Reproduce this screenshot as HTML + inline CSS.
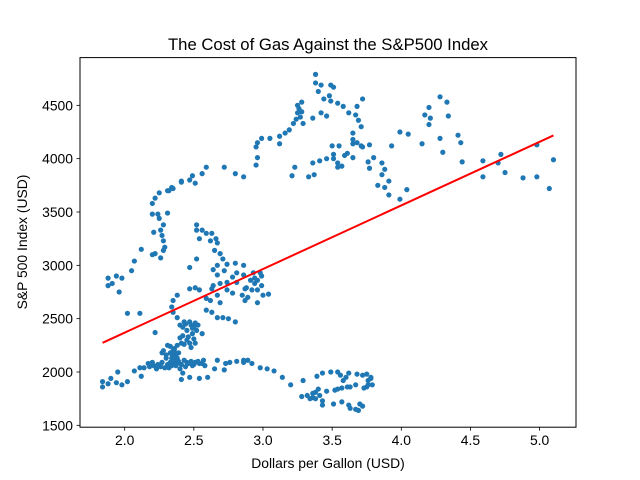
<!DOCTYPE html>
<html><head><meta charset="utf-8"><style>
html,body{margin:0;padding:0;background:#fff;}
svg{display:block;font-family:"Liberation Sans","DejaVu Sans",sans-serif;}
</style></head><body>
<svg id="chart" width="640" height="480" viewBox="0 0 640 480" xmlns="http://www.w3.org/2000/svg">
<rect x="0" y="0" width="640" height="480" fill="#fff"/>
<text x="328" y="50" font-size="16.7" text-anchor="middle" fill="#000">The Cost of Gas Against the S&amp;P500 Index</text>
<text x="328" y="468" font-size="13.9" text-anchor="middle" fill="#000">Dollars per Gallon (USD)</text>
<text x="0" y="0" font-size="13.9" text-anchor="middle" fill="#000" transform="translate(27,242) rotate(-90)">S&amp;P 500 Index (USD)</text>
<g id="ticks"></g>
<g id="points"></g>
<g id="fit"></g>
<rect x="80" y="57.6" width="496" height="369.6" fill="none" stroke="#000" stroke-width="1"/>
</svg>
<script>
const xTicks = [2.0, 2.5, 3.0, 3.5, 4.0, 4.5, 5.0];
const yTicks = [1500, 2000, 2500, 3000, 3500, 4000, 4500];
const observations = [
[1.84,1860],[1.84,1910],[1.88,1890],[1.90,1940],[1.94,1900],[1.95,2000],[1.98,1880],[2.02,1910],[2.07,2010],[2.12,1960],
[2.11,2040],[2.14,2040],[2.17,2080],[2.20,2090],[2.23,2030],[2.27,2090],[2.29,2040],[2.30,2130],[2.33,2180],[2.27,2180],
[2.28,2200],[2.35,2140],[2.36,2090],[2.38,2080],[2.40,2030],[2.42,1990],[2.41,1930],[2.47,1950],[2.49,2060],[2.51,2090],
[2.54,2080],[2.57,2110],[2.54,1940],[2.60,1950],[2.65,2030],[2.67,2110],[2.72,2020],[2.73,2080],[2.76,2090],[2.81,2100],
[2.86,2110],[2.89,2110],[2.92,2080],[2.33,2090],[2.34,2060],[2.38,2130],[2.43,2110],[2.46,2080],[2.37,2160],[2.31,2250],[2.36,2220],
[2.18,2050],[2.21,2060],[2.24,2070],[2.26,2050],[2.31,2070],[2.32,2040],[2.35,2110],[2.37,2060],[2.39,2100],[2.41,2070],
[2.44,2050],[2.45,2090],[2.48,2100],[2.50,2070],[2.53,2100],[2.56,2080],[2.58,2060],[2.34,2170],[2.36,2190],[2.39,2180],
[2.33,2240],[2.42,2420],[2.44,2450],[2.48,2440],[2.50,2420],[2.53,2440],[2.45,2300],[2.50,2310],[2.43,2260],[2.48,2230],
[2.86,2090],[2.98,2040],[3.03,2030],[3.08,2010],[3.14,1950],[3.20,1880],[3.29,1920],[3.39,1960],[3.43,1990],[3.49,2000],
[3.54,2000],[3.56,1970],[3.62,1990],[3.68,1980],[3.72,1970],[3.75,1980],[3.78,1950],[3.76,1920],[3.79,1880],[3.75,1860],
[3.73,1850],[3.67,1880],[3.63,1860],[3.61,1860],[3.57,1850],[3.54,1840],[3.52,1830],[3.58,1920],[3.60,1950],[3.46,1820],
[3.40,1840],[3.38,1810],[3.36,1800],[3.32,1780],[3.28,1770],[3.36,1760],[3.34,1750],[3.38,1750],[3.41,1780],[3.43,1730],
[3.43,1690],[3.51,1700],[3.57,1720],[3.62,1690],[3.63,1660],[3.67,1650],[3.69,1640],[3.70,1700],[3.72,1680],[3.76,1880],[3.78,1940],
[1.88,2880],[1.88,2810],[1.91,2830],[1.94,2900],[1.98,2880],[1.96,2750],[2.02,2550],[2.11,2550],[2.05,2950],[2.07,3040],
[2.12,3150],[2.20,3100],[2.22,3110],[2.26,3070],[2.28,3140],[2.29,3170],[2.28,3230],[2.27,3280],[2.26,3330],[2.28,3380],
[2.25,3440],[2.24,3480],[2.20,3480],[2.21,3310],[2.31,3490],[2.20,3580],[2.22,3630],[2.25,3680],[2.31,3700],[2.34,3730],
[2.41,3780],[2.47,3800],[2.49,3840],[2.51,3770],[2.56,3860],[2.80,3860],[2.86,3830],[2.32,3700],[2.35,3720],[2.41,3790],
[2.59,3920],[2.72,3920],
[2.52,3380],[2.52,3330],[2.56,3330],[2.59,3300],[2.63,3300],[2.54,3250],[2.62,3230],[2.66,3250],[2.67,3210],[2.65,3140],
[2.69,3110],[2.71,3060],[2.67,3000],[2.64,2960],[2.67,2910],[2.72,2950],[2.74,3010],[2.80,3020],[2.86,3000],[2.81,2930],
[2.78,2890],[2.74,2840],[2.69,2830],[2.64,2810],[2.63,2780],[2.59,2690],[2.62,2670],[2.67,2720],[2.69,2650],[2.74,2770],
[2.78,2740],[2.81,2840],[2.85,2720],[2.87,2670],[2.91,2860],[2.94,2830],[2.96,2770],[2.99,2810],[2.98,2930],[2.93,2930],
[3.00,2720],[3.04,2730],[2.96,2650],[2.89,2700],[2.59,2580],[2.63,2560],[2.67,2510],[2.71,2510],[2.75,2500],[2.80,2470],
[2.52,3060],[2.47,2980],[2.47,2780],[2.51,2790],[2.54,2770],[2.38,2720],[2.35,2670],[2.34,2610],[2.35,2560],[2.38,2510],
[2.40,2440],[2.43,2470],[2.47,2470],[2.51,2460],[2.49,2410],[2.52,2390],[2.45,2390],[2.42,2340],[2.46,2330],[2.49,2360],
[2.56,2360],[2.41,2270],[2.38,2250],[2.35,2200],[2.47,2270],[2.51,2270],[2.22,2370],[2.40,2320],[2.30,2160],[2.34,2130],
[2.92,2770],[2.96,2860],[2.88,2790],[2.94,2880],[2.99,2900],[2.86,2910],[2.87,2780],
[2.95,3940],[2.96,4010],[2.95,4110],[2.96,4150],[2.99,4190],[3.05,4190],[3.12,4140],[3.12,4210],[3.16,4240],[3.19,4270],
[3.22,4330],[3.24,4370],[3.25,4430],[3.25,4500],[3.28,4530],[3.28,4440],[3.29,4330],[3.26,4470],[3.27,4390],[3.36,4380],
[3.38,4790],[3.38,4710],[3.42,4690],[3.40,4630],[3.49,4690],[3.51,4670],[3.48,4590],[3.44,4560],[3.49,4540],[3.42,4430],
[3.46,4400],[3.54,4520],[3.58,4490],[3.62,4430],[3.68,4490],[3.72,4560],[3.67,4410],[3.69,4360],[3.71,4300],
[3.21,3840],[3.23,3920],[3.33,3830],[3.37,3850],[3.36,3960],[3.41,3980],[3.46,4000],[3.50,4120],[3.55,4120],[3.51,4040],
[3.51,4000],[3.54,3960],[3.54,3920],[3.57,3930],[3.59,4030],[3.61,4050],[3.65,4010],[3.65,4140],[3.65,4180],[3.65,4240],
[3.68,4150],[3.71,4120],[3.72,4110],[3.77,4130],[3.76,3970],[3.77,3910],[3.80,4010],[3.86,3960],[3.88,3900],[3.86,3850],
[3.91,3790],[3.88,3730],[3.83,3750],[3.91,3660],[3.99,3620],[4.04,3710],[3.93,4120],[3.99,4250],[4.05,4230],
[4.28,4580],[4.33,4530],[4.20,4480],[4.17,4410],[4.21,4380],[4.20,4320],[4.34,4400],[4.15,4140],[4.28,4190],[4.30,4060],
[4.41,4220],[4.43,4150],[4.44,3970],[4.59,3980],[4.59,3830],[4.70,3960],[4.72,4040],[4.75,3870],[4.88,3820],[4.98,3830],
[4.98,4130],[5.07,3720],[5.10,3990]
];
const gasPrice = observations.map(function(p){return p[0];});
const spIndex = observations.map(function(p){return p[1];});

const NS = "http://www.w3.org/2000/svg";
const L = 80, T = 57.6, W = 496, H = 369.6;
const xmin0 = Math.min.apply(null, gasPrice), xmax0 = Math.max.apply(null, gasPrice);
const ymin0 = Math.min.apply(null, spIndex), ymax0 = Math.max.apply(null, spIndex);
const xPad = (xmax0 - xmin0) * 0.05, yPad = (ymax0 - ymin0) * 0.05;
const xLo = xmin0 - xPad, xHi = xmax0 + xPad, yLo = ymin0 - yPad, yHi = ymax0 + yPad;
function xScale(v){ return L + (v - xLo) / (xHi - xLo) * W; }
function yScale(v){ return T + H - (v - yLo) / (yHi - yLo) * H; }
function mk(tag, attrs, parent){ const e = document.createElementNS(NS, tag); for (const k in attrs) e.setAttribute(k, attrs[k]); parent.appendChild(e); return e; }

const tg = document.getElementById('ticks');
xTicks.forEach(function(t){
  const x = xScale(t);
  const ln = mk('line', {x1:x, x2:x, y1:T+H, y2:T+H+3.5, stroke:'#000', 'stroke-width':0.8}, tg);
  
  
  const tx = mk('text', {x:x, y:T+H+18, 'font-size':13.9, 'text-anchor':'middle', fill:'#000'}, tg);
  tx.textContent = t.toFixed(1);
  
  
});
yTicks.forEach(function(t){
  const y = yScale(t);
  const ln = mk('line', {x1:L-3.5, x2:L, y1:y, y2:y, stroke:'#000', 'stroke-width':0.8}, tg);
  
  
  const tx = mk('text', {x:L-7, y:y+5, 'font-size':13.9, 'text-anchor':'end', fill:'#000'}, tg);
  tx.textContent = String(t);
  
  
});

const pg = document.getElementById('points');
for (let i = 0; i < gasPrice.length; i++) {
  const c = mk('circle', {cx:xScale(gasPrice[i]), cy:yScale(spIndex[i]), r:2.6, fill:'#1f77b4'}, pg);
  
  
}

const n = gasPrice.length;
let sx=0, sy=0, sxx=0, sxy=0;
for (let i=0;i<n;i++){ sx+=gasPrice[i]; sy+=spIndex[i]; sxx+=gasPrice[i]*gasPrice[i]; sxy+=gasPrice[i]*spIndex[i]; }
const slope = (n*sxy - sx*sy) / (n*sxx - sx*sx);
const icpt = (sy - slope*sx) / n;
const fl = mk('line', {x1:xScale(xmin0), y1:yScale(icpt+slope*xmin0), x2:xScale(xmax0), y2:yScale(icpt+slope*xmax0), stroke:'#ff0000', 'stroke-width':2}, document.getElementById('fit'));


</script>
</body></html>
